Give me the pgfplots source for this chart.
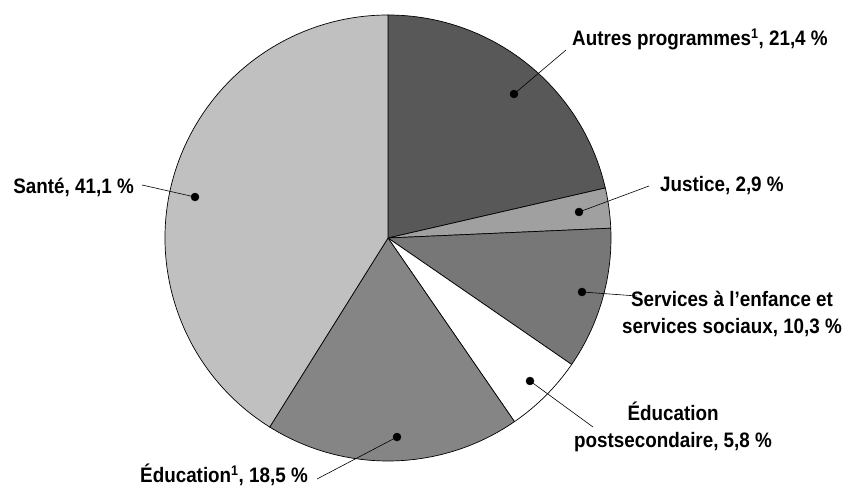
\documentclass[border=0pt]{standalone}
\usepackage{pgfplots}
\pgfplotsset{compat=1.18}
\usepackage{fontspec}
\setmainfont{Liberation Sans}[FakeStretch=0.9]
\definecolor{cAutres}{HTML}{585858}
\definecolor{cJustice}{HTML}{A0A0A0}
\definecolor{cServices}{HTML}{777777}
\definecolor{cPost}{HTML}{FFFFFF}
\definecolor{cEduc}{HTML}{858585}
\definecolor{cSante}{HTML}{C0C0C0}
\tikzset{lbl/.style={font=\fontsize{21}{27}\selectfont\bfseries, inner sep=0pt}}
\begin{document}
\begin{tikzpicture}
\begin{axis}[scale only axis, width=850bp, height=491bp,
  xmin=0, xmax=850, ymin=0, ymax=491, hide axis, clip=false]
% pie slices (percentages, clockwise from top)
\filldraw[fill=cAutres, draw=black, line width=0.7pt] (axis cs:388,253) -- ++({90-3.6*0}:223bp) arc[start angle={90-3.6*0}, end angle={90-3.6*21.4}, radius=223bp] -- cycle;
\filldraw[fill=cJustice, draw=black, line width=0.7pt] (axis cs:388,253) -- ++({90-3.6*21.4}:223bp) arc[start angle={90-3.6*21.4}, end angle={90-3.6*(21.4+2.9)}, radius=223bp] -- cycle;
\filldraw[fill=cServices, draw=black, line width=0.7pt] (axis cs:388,253) -- ++({90-3.6*24.3}:223bp) arc[start angle={90-3.6*24.3}, end angle={90-3.6*(24.3+10.3)}, radius=223bp] -- cycle;
\filldraw[fill=cPost, draw=black, line width=0.7pt] (axis cs:388,253) -- ++({90-3.6*34.6}:223bp) arc[start angle={90-3.6*34.6}, end angle={90-3.6*(34.6+5.8)}, radius=223bp] -- cycle;
\filldraw[fill=cEduc, draw=black, line width=0.7pt] (axis cs:388,253) -- ++({90-3.6*40.4}:223bp) arc[start angle={90-3.6*40.4}, end angle={90-3.6*(40.4+18.5)}, radius=223bp] -- cycle;
\filldraw[fill=cSante, draw=black, line width=0.7pt] (axis cs:388,253) -- ++({90-3.6*58.9}:223bp) arc[start angle={90-3.6*58.9}, end angle={90-3.6*(58.9+41.1)}, radius=223bp] -- cycle;
% leader lines
\addplot[black, line width=0.6pt] coordinates {(514,397) (566,441)};
\addplot[black, line width=0.6pt] coordinates {(579,279) (649,305)};
\addplot[black, line width=0.6pt] coordinates {(582,199) (637,195)};
\addplot[black, line width=0.6pt] coordinates {(530,110) (593,64)};
\addplot[black, line width=0.6pt] coordinates {(397,54) (317,12)};
\addplot[black, line width=0.6pt] coordinates {(195,294) (142,306)};
% dots
\addplot[only marks, mark=*, mark size=4bp, black] coordinates {(514,397) (579,279) (582,199) (530,110) (397,54) (195,294)};
% labels
\node[lbl, anchor=base west] at (axis cs:572,445) {Autres programmes\textsuperscript{\fontsize{14}{14}\selectfont 1}, 21,4 \%};
\node[lbl, anchor=base west] at (axis cs:660,299) {Justice, 2,9 \%};
\node[lbl, align=center] at (axis cs:732,177) {Services à l’enfance et\\services sociaux, 10,3 \%};
\node[lbl, align=center] at (axis cs:673,64) {Éducation\\postsecondaire, 5,8 \%};
\node[lbl, anchor=east] at (axis cs:308,16) {Éducation\textsuperscript{\fontsize{14}{14}\selectfont 1}, 18,5 \%};
\node[lbl, anchor=east] at (axis cs:134,304) {Santé, 41,1 \%};
\draw[draw=none] (rel axis cs:0,0) rectangle (rel axis cs:1,1);
\end{axis}
\end{tikzpicture}
\end{document}
